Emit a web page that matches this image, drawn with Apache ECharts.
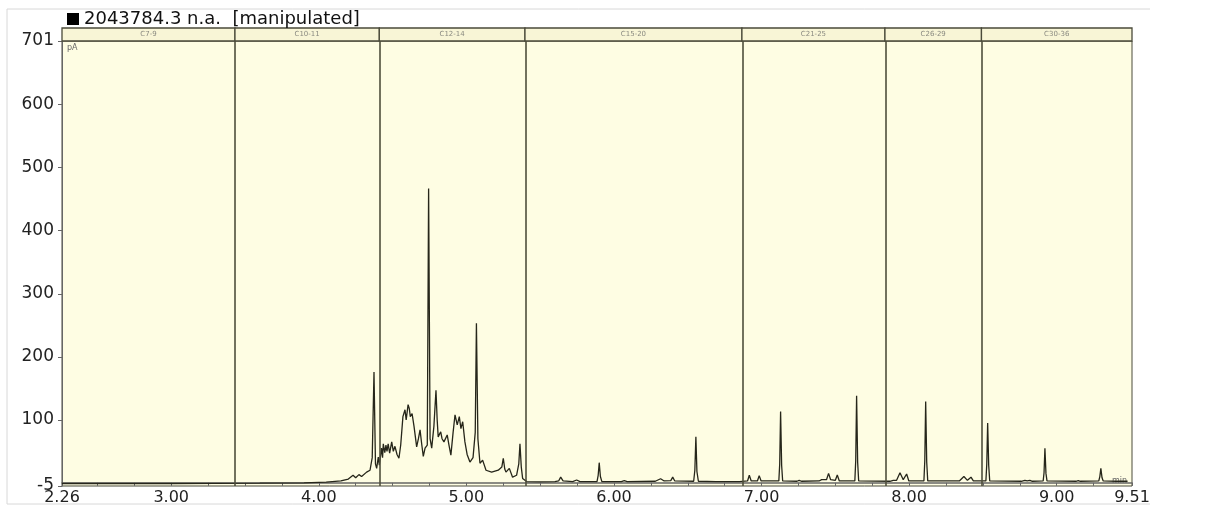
<!DOCTYPE html>
<html>
<head>
<meta charset="utf-8">
<script src="https://cdn.jsdelivr.net/npm/echarts@6/dist/echarts.min.js"></script>
<style>html,body{margin:0;padding:0;background:#fff;}#c{width:1208px;height:506px;}</style>
</head>
<body>
<div id="c"></div>
<script>
// ---- data ----
const seriesName = '2043784.3 n.a.  [manipulated]';
const xLabelValues = [2.26, 3, 4, 5, 6, 7, 8, 9, 9.51];
const xTickValues = [2.26, 2.5, 2.75, 3, 3.25, 3.5, 3.75, 4, 4.25, 4.5, 4.75, 5, 5.25, 5.5, 5.75, 6, 6.25, 6.5, 6.75, 7, 7.25, 7.5, 7.75, 8, 8.25, 8.5, 8.75, 9, 9.25, 9.51];
const yLabelValues = [-5, 100, 200, 300, 400, 500, 600, 701];
const segBounds = [2.26, 3.432, 4.41, 5.397, 6.867, 7.836, 8.49, 9.51];
const segLabels = ['C7-9', 'C10-11', 'C12-14', 'C15-20', 'C21-25', 'C26-29', 'C30-36'];
const trace = [
 [2.26,-1],[3.0,-1],[3.6,-0.5],[3.9,0],[4.05,1],[4.15,3],[4.2,6],[4.211,7],[4.232,12],[4.25,8],[4.272,13],[4.29,10],
 [4.324,17],[4.347,20],[4.362,40],[4.374,176],[4.384,30],[4.392,23],[4.403,41],[4.41,28],[4.425,55],[4.432,40],
 [4.437,62],[4.447,48],[4.455,60],[4.462,50],[4.47,62],[4.48,47],[4.494,65],[4.505,50],[4.516,58],[4.53,45],
 [4.543,39],[4.555,60],[4.57,105],[4.584,116],[4.592,100],[4.605,124],[4.613,118],[4.62,105],[4.632,110],[4.645,90],
 [4.663,57],[4.675,70],[4.686,84],[4.698,60],[4.708,42],[4.72,55],[4.735,60],[4.744,467],[4.754,70],[4.765,55],
 [4.78,90],[4.794,147],[4.802,100],[4.809,73],[4.826,81],[4.835,70],[4.848,65],[4.87,76],[4.882,60],[4.895,44],
 [4.91,80],[4.923,108],[4.938,92],[4.952,105],[4.963,86],[4.975,97],[4.99,65],[5.005,45],[5.024,33],[5.045,40],
 [5.06,80],[5.068,253],[5.078,70],[5.092,31],[5.11,36],[5.133,20],[5.171,17],[5.216,20],[5.24,25],[5.25,39],
 [5.26,22],[5.268,17],[5.291,23],[5.313,9],[5.34,12],[5.355,30],[5.363,62],[5.372,25],[5.381,7],[5.408,2],
 [5.5,1.5],[5.6,2],[5.625,3],[5.639,9],[5.655,3],[5.72,2],[5.747,4.5],[5.77,2],[5.885,2],[5.893,12],[5.9,32],
 [5.908,10],[5.918,2],[6.05,2],[6.07,3.5],[6.09,2],[6.28,2.5],[6.316,6.5],[6.34,3],[6.385,3.5],[6.398,9],[6.412,3],
 [6.54,2.5],[6.548,20],[6.555,73],[6.562,18],[6.572,2.5],[6.69,2],[6.7,5],[6.71,2],[6.85,2],[6.905,3],[6.917,12],
 [6.93,3],[6.972,3],[6.984,11.5],[6.997,3],[7.117,3],[7.123,30],[7.129,113],[7.136,28],[7.143,3],[7.24,2.5],
 [7.255,4],[7.27,2.5],[7.39,3],[7.407,5],[7.44,5],[7.454,15],[7.468,5],[7.5,4],[7.513,12.5],[7.527,3],[7.632,3],
 [7.638,35],[7.644,138],[7.651,33],[7.658,3],[7.87,2.5],[7.892,4],[7.915,4],[7.938,16],[7.96,5],[7.983,14],
 [7.998,3],[8.1,3],[8.106,35],[8.112,129],[8.119,33],[8.126,3],[8.34,3],[8.371,10],[8.395,4],[8.419,9],[8.435,3],
 [8.52,3],[8.526,30],[8.532,95],[8.539,28],[8.546,3],[8.76,2.5],[8.784,4],[8.8,3],[8.818,4],[8.835,2.5],[8.908,3],
 [8.914,16],[8.92,55],[8.927,15],[8.934,3],[9.13,2.5],[9.146,3.5],[9.16,2.5],[9.285,3],[9.292,10],[9.299,23],
 [9.307,8],[9.315,3],[9.4,2.5],[9.48,2.5]
];

// ---- chart ----
const chart = echarts.init(document.getElementById('c'), null, {renderer: 'canvas'});
const areaData = segLabels.map((name, i) => [{xAxis: segBounds[i], name: name}, {xAxis: segBounds[i + 1]}]);
const sepData = segBounds.slice(1, -1).map(v => ({xAxis: v}));
const FONT = 'DejaVu Sans';

chart.setOption({
  animation: false,
  backgroundColor: '#ffffff',
  legend: {
    data: [seriesName], left: 62, top: 5, icon: 'rect', itemWidth: 12, itemHeight: 12, itemGap: 4,
    textStyle: {fontFamily: FONT, fontSize: 18, color: '#111'}
  },
  grid: [
    {left: 62, right: 76, top: 41, bottom: 20, show: true, backgroundColor: '#FEFDE3', borderColor: '#4a4a3a', borderWidth: 1},
    {left: 62, right: 76, top: 28, height: 13, show: false}
  ],
  xAxis: [
    {type: 'value', gridIndex: 0, min: 2.26, max: 9.51,
     axisLine: {show: true, lineStyle: {color: '#666', width: 1.5}},
     axisTick: {show: true, customValues: xTickValues, length: 3, lineStyle: {color: '#666'}},
     axisLabel: {customValues: xLabelValues, formatter: v => v.toFixed(2), margin: 4,
                 fontFamily: FONT, fontSize: 16, color: '#222'},
     splitLine: {show: false}},
    {type: 'value', gridIndex: 1, min: 2.26, max: 9.51, show: false}
  ],
  yAxis: [
    {type: 'value', gridIndex: 0, min: -5, max: 701,
     axisLine: {show: true, lineStyle: {color: '#666', width: 1}},
     axisTick: {show: true, customValues: yLabelValues, length: 4, lineStyle: {color: '#666'}},
     axisLabel: {customValues: yLabelValues, margin: 8, fontFamily: FONT, fontSize: 17, color: '#222'},
     splitLine: {show: false}},
    {type: 'value', gridIndex: 1, min: 0, max: 1, show: false}
  ],
  series: [
    {name: seriesName, type: 'line', xAxisIndex: 0, yAxisIndex: 0, data: trace,
     showSymbol: false, symbol: 'none', smooth: false,
     lineStyle: {color: '#26261a', width: 1.3}, itemStyle: {color: '#000'},
     markLine: {silent: true, symbol: ['none', 'none'], label: {show: false},
                lineStyle: {color: '#4f4f3c', width: 1.6, type: 'solid'}, data: sepData},
     z: 3},
    {type: 'line', xAxisIndex: 1, yAxisIndex: 1, data: [[2.26, 0.5]], symbol: 'none', lineStyle: {width: 0},
     markArea: {silent: true,
                itemStyle: {color: '#F8F5D6', borderColor: '#4a4a3a', borderWidth: 1.3},
                label: {show: true, position: 'inside', fontSize: 7, color: '#8a8a80', fontFamily: FONT},
                data: areaData}}
  ],
  graphic: [
    {type: 'polyline', silent: true, shape: {points: [[1150, 9], [7, 9], [7, 504], [1150, 504]]},
     style: {stroke: '#d8d8d8', lineWidth: 1, fill: null}},
    {type: 'text', left: 67, top: 44, silent: true, style: {text: 'pA', fontSize: 8, fill: '#666', fontFamily: FONT}},
    {type: 'text', left: 1112, top: 477, silent: true, style: {text: 'min', fontSize: 8, fill: '#666', fontFamily: FONT}}
  ]
});
</script>
</body>
</html>
